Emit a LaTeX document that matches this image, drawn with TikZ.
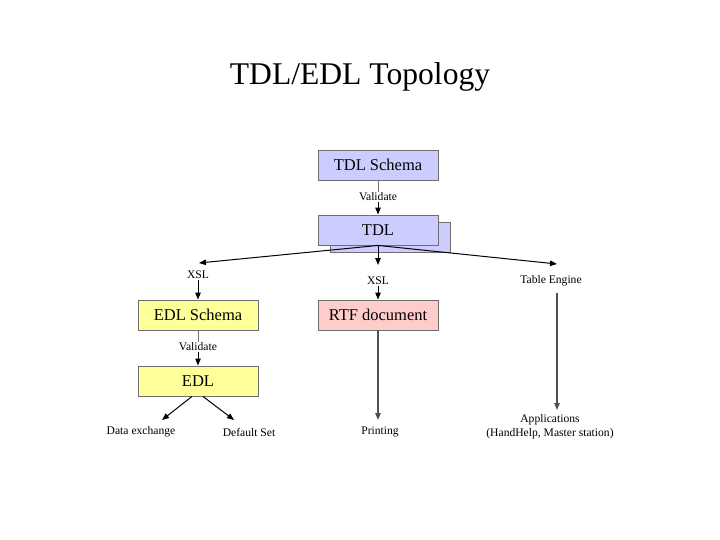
\documentclass[tikz,border=0pt]{standalone}
\usepackage{fontspec}
\setmainfont{Liberation Serif}
\usetikzlibrary{arrows.meta}
\definecolor{tdlblue}{RGB}{204,204,255}
\definecolor{edlyellow}{RGB}{255,255,153}
\definecolor{rtfpink}{RGB}{255,204,204}
\definecolor{boxgray}{RGB}{110,110,110}
\definecolor{linegray}{RGB}{80,80,80}
\tikzset{
  tbox/.style={draw=boxgray,line width=0.9pt,minimum width=120pt,minimum height=30pt,inner sep=0pt,font=\fontsize{16.5}{19}\selectfont},
  tdlbox/.style={tbox,fill=tdlblue},
  edlbox/.style={tbox,fill=edlyellow},
  rtfbox/.style={tbox,fill=rtfpink},
  lab/.style={inner sep=1pt,font=\fontsize{11.6}{14}\selectfont},
  arr/.style={-{Triangle[length=7pt,width=5.5pt]},line width=1pt},
  garr/.style={arr,draw=linegray,line width=1.2pt},
  gtick/.style={draw=boxgray,line width=1pt}
}
\begin{document}
\begin{tikzpicture}[x=1pt,y=-1pt]
  \useasboundingbox (0,0) rectangle (720,540);
  \node[font=\fontsize{31.6}{36}\selectfont] (title) at (360,77) {TDL/EDL Topology};

  \node[tdlbox] (tdls) at (378,165) {TDL Schema};
  \node[lab] (val1) at (378,197) {Validate};
  \node[tdlbox] (tdlsh) at (390,237) {};
  \node[tdlbox] (tdl) at (378,230) {TDL};
  \draw[gtick] (tdls) -- (val1);
  \draw[arr] (val1) -- (tdl);

  \coordinate (tl) at (199,263); \coordinate (tm) at (378,265); \coordinate (tr) at (557,264);
  \draw[arr] (tdl.south) -- (tl);
  \draw[arr] (tdl.south) -- (tm);
  \draw[arr] (tdl.south) -- (tr);

  \node[lab] (xsl1) at (198,275) {XSL};
  \node[lab] (xsl2) at (378,281) {XSL};
  \node[lab] (teng) at (551,281) {Table Engine};

  \node[edlbox] (edls) at (198,315) {EDL Schema};
  \node[lab] (val2) at (198,347) {Validate};
  \node[edlbox] (edl) at (198,381) {EDL};
  \draw[arr] (xsl1) -- (edls);
  \draw[gtick] (edls) -- (val2);
  \draw[arr] (val2) -- (edl);

  \node[lab] (dex) at (141,432) {Data exchange};
  \node[lab] (dset) at (249,432) {Default Set};
  \coordinate (el) at (162,420); \coordinate (er) at (234,420);
  \draw[arr] ([xshift=-6pt]edl.south) -- (el);
  \draw[arr] ([xshift=5pt]edl.south) -- (er);

  \node[rtfbox] (rtf) at (378,315) {RTF document};
  \node[lab] (prt) at (380,432) {Printing};
  \draw[arr] (xsl2) -- (rtf);
  \coordinate (pr) at (378,420);
  \draw[garr] (rtf) -- (pr);

  \node[lab,align=center] (apps) at (550,427) {Applications\\(HandHelp, Master station)};
  \coordinate (ta) at (557,293); \coordinate (tb) at (557,410);
  \draw[garr] (ta) -- (tb);
\end{tikzpicture}
\end{document}
